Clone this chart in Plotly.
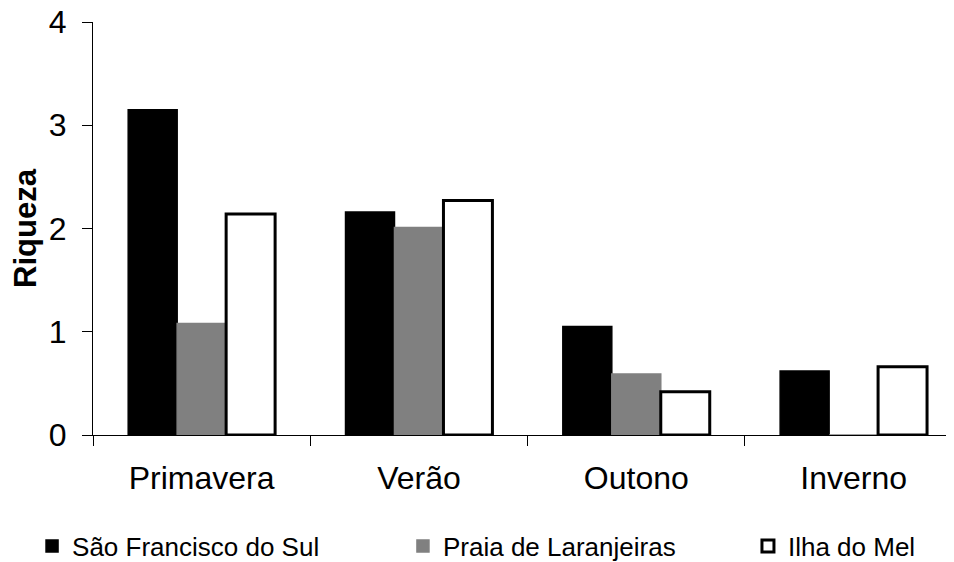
import plotly.graph_objects as go

categories = ["Primavera", "Verão", "Outono", "Inverno"]
sao_francisco = [3.15, 2.16, 1.05, 0.62]
praia_laranjeiras = [1.08, 2.01, 0.59, 0.0]
ilha_do_mel = [2.14, 2.27, 0.42, 0.66]
y_ticks = [0, 1, 2, 3, 4]

FONT = "Liberation Sans, Arial, sans-serif"

fig = go.Figure()
fig.add_trace(go.Bar(x=categories, y=sao_francisco, name="São Francisco do Sul",
                     marker=dict(color="#000000", line=dict(color="#000000", width=1.5)), legend="legend"))
fig.add_trace(go.Bar(x=categories, y=praia_laranjeiras, name="Praia de Laranjeiras",
                     marker=dict(color="#808080", line=dict(color="#808080", width=1.5)), legend="legend2"))
fig.add_trace(go.Bar(x=categories, y=ilha_do_mel, name="Ilha do Mel",
                     marker=dict(color="#ffffff", line=dict(color="#000000", width=3)), legend="legend3"))

leg_common = dict(orientation="h", yanchor="middle", xanchor="left", y=-0.269,
                  font=dict(family=FONT, size=26, color="#000000"),
                  bgcolor="rgba(0,0,0,0)", borderwidth=0)

# the page has an 8px body margin, so the figure is sized/offset to compensate
fig.update_layout(
    width=946, height=554,
    margin=dict(l=85, r=0, t=14, b=127, pad=0, autoexpand=False),
    paper_bgcolor="white", plot_bgcolor="white",
    barmode="group", bargap=0.324, bargroupgap=0,
    font=dict(family=FONT, color="#000000"),
    showlegend=True,
    legend=dict(x=-0.0708, **leg_common),
    legend2=dict(x=0.360, **leg_common),
    legend3=dict(x=0.7607, **leg_common),
    xaxis=dict(range=[-0.5, 3.462], showline=True, linecolor="#000000", linewidth=1,
               ticks="outside", ticklen=10, tickcolor="#000000", tickwidth=1,
               tickson="boundaries", showgrid=False, zeroline=False, automargin=False,
               tickfont=dict(family=FONT, size=32, color="#000000"),
               ticklabelstandoff=15, ticklabeloverflow="allow"),
    yaxis=dict(range=[0, 4], tickvals=y_ticks, showline=True, linecolor="#000000", linewidth=1,
               ticks="outside", ticklen=10, tickcolor="#000000", tickwidth=1,
               showgrid=False, zeroline=False, automargin=False,
               tickfont=dict(family=FONT, size=32, color="#000000"),
               ticklabelstandoff=9, ticklabeloverflow="allow",
               title=dict(text="<b>Riqueza</b>", font=dict(family=FONT, size=31, color="#000000"),
                          standoff=10)),
)

fig.write_html("out.html")
